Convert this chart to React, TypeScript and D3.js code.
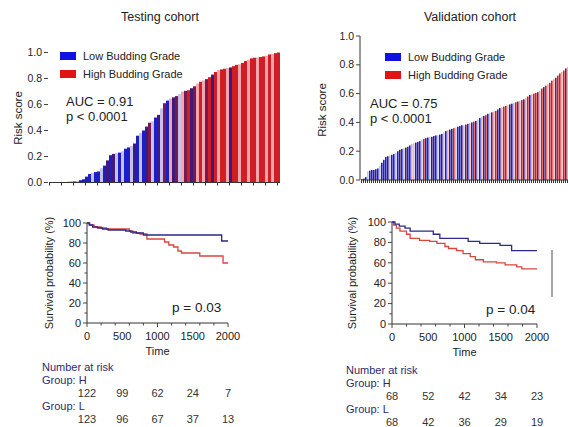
import React from 'react';
import * as d3 from 'd3';

// risk score bars (sorted), one letter per bar for the colour group
const testScores = [
  0, 0, 0, 0, 0.003, 0.003, 0.005, 0.006, 0.008, 0.012, 0.018, 0.025,
  0.045, 0.065, 0.075, 0.08, 0.085, 0.11, 0.13, 0.17, 0.21, 0.22, 0.225, 0.23,
  0.24, 0.26, 0.27, 0.28, 0.3, 0.36, 0.38, 0.4, 0.43, 0.46, 0.47, 0.5,
  0.52, 0.57, 0.61, 0.63, 0.645, 0.655, 0.665, 0.68, 0.7, 0.705, 0.71, 0.725,
  0.74, 0.76, 0.775, 0.785, 0.795, 0.81, 0.83, 0.85, 0.865, 0.87, 0.875, 0.88,
  0.885, 0.895, 0.905, 0.91, 0.92, 0.935, 0.945, 0.955, 0.96, 0.962, 0.965, 0.97,
  0.975, 0.985, 0.99, 0.995, 1.0,
];
const testGrades = 'BBLBBLBBBLBBBBLBBLBPBPLBLBBLPBLBPMLBPLMBKPMLKMRPMKRKMRPRKRRKPRRKRRKRRKRRKRKRR'.split('');

const valScores = [
  0.005, 0.01, 0.02, 0.06, 0.065, 0.07, 0.07, 0.075, 0.08, 0.1, 0.12, 0.14,
  0.16, 0.165, 0.17, 0.175, 0.18, 0.19, 0.2, 0.21, 0.215, 0.22, 0.225, 0.23,
  0.24, 0.25, 0.255, 0.26, 0.265, 0.27, 0.28, 0.285, 0.29, 0.295, 0.3, 0.3,
  0.305, 0.31, 0.31, 0.315, 0.32, 0.33, 0.34, 0.345, 0.35, 0.355, 0.36, 0.365,
  0.37, 0.375, 0.38, 0.38, 0.385, 0.39, 0.395, 0.4, 0.405, 0.41, 0.42, 0.43,
  0.44, 0.445, 0.45, 0.46, 0.465, 0.47, 0.475, 0.48, 0.49, 0.5, 0.505, 0.51,
  0.515, 0.52, 0.525, 0.53, 0.535, 0.54, 0.545, 0.55, 0.555, 0.56, 0.57, 0.58,
  0.59, 0.595, 0.6, 0.605, 0.61, 0.62, 0.635, 0.645, 0.655, 0.665, 0.675, 0.69,
  0.7, 0.71, 0.725, 0.74, 0.75, 0.76, 0.775, 0.785,
];
const valGrades = ('BBBLBBPBBLBBBPLBBLBP' + 'BLPBBKLBPBLRBBLPBBLB' + 'PLBKBPRLBBPLMBKBRPLB' +
  'KPRBLMKRBPKRRLPBKRMK' + 'RPKRBKRRMKRPRKRRKMRRKRMK').split('');

const riskTicks = [0, 0.2, 0.4, 0.6, 0.8, 1.0];
const timeTicks = [0, 500, 1000, 1500, 2000];
const survTicks = [0, 20, 40, 60, 80, 100];

// Kaplan-Meier steps
const testLowT = [0, 30, 80, 150, 220, 300, 550, 620, 700, 800, 1910];
const testLowS = [100, 98, 96, 95, 94, 93, 92, 91, 90, 88, 82];
const testHighT = [0, 40, 100, 200, 280, 600, 650, 750, 850, 1100, 1160, 1230, 1290, 1340, 1600, 1930];
const testHighS = [100, 98, 96, 95, 94, 92, 90, 89, 84, 81, 78, 76, 72, 70, 67, 60];
const valLowT = [0, 40, 100, 180, 250, 570, 660, 1050, 1210, 1490, 1650];
const valLowS = [100, 98, 96, 94, 91, 88, 84, 81, 79, 77, 72];
const valHighT = [0, 20, 60, 110, 200, 250, 380, 520, 620, 730, 780, 890, 980, 1080, 1150, 1260, 1440, 1560, 1720, 1790];
const valHighS = [100, 97, 94, 91, 88, 84, 82, 81, 79, 76, 74, 72, 69, 66, 63, 61, 60, 58, 56, 54];

const testRiskH = [122, 99, 62, 24, 7];
const testRiskL = [123, 96, 67, 37, 13];
const valRiskH = [68, 52, 42, 34, 23];
const valRiskL = [68, 42, 36, 29, 19];

const gradeColor: Record<string, string> = {
  B: '#1e1ec6', P: '#40197a', M: '#7a1a4c', L: '#c7c0ec', K: '#f1a7af', R: '#d11e24',
};
const FONT = 'Liberation Sans, Arial, sans-serif';
const TXT = '#222';
const NAVY = '#2b2b70';

function RiskPanel(props: any) {
  const { scores, grades, left, right, top, bottom, tickEvery, yAxisX, axisLine, title, titleX,
    legendX, legendY, aucX, aucY, auc, labelX, labelY, fill } = props;
  const x = d3.scaleBand<number>().domain(d3.range(scores.length)).range([left, right]);
  const y = d3.scaleLinear().domain([0, 1]).range([bottom, top]);
  return (
    <g fontFamily={FONT}>
      <text x={titleX} y={21} fontSize={12.5} textAnchor="middle" fill={TXT}>{title}</text>
      {scores.map((s: number, i: number) => (
        <rect key={i} x={x(i)} y={y(s)} width={x.bandwidth() * fill} height={bottom - y(s)}
          fill={gradeColor[grades[i]]} />
      ))}
      <line x1={left} x2={right} y1={bottom} y2={bottom} stroke="#333" strokeWidth={1} />
      {scores.map((s: number, i: number) => i % tickEvery === 0 ? (
        <line key={'t' + i} x1={x(i)! + 0.5} x2={x(i)! + 0.5} y1={bottom} y2={bottom + 3} stroke="#333" strokeWidth={1} />
      ) : null)}
      {axisLine && <line x1={yAxisX} x2={yAxisX} y1={top} y2={bottom} stroke="#333" />}
      {riskTicks.map((t) => (
        <g key={t}>
          <line x1={yAxisX - 4} x2={yAxisX} y1={y(t)} y2={y(t)} stroke="#444" />
          <text x={yAxisX - 6} y={y(t)} dy="0.35em" fontSize={10.5} textAnchor="end" fill={TXT}>{t.toFixed(1)}</text>
        </g>
      ))}
      <text transform={`translate(${labelX},${labelY}) rotate(-90)`} fontSize={11.5} textAnchor="middle" fill={TXT}>Risk score</text>
      <rect x={legendX} y={legendY - 7} width={16} height={8} fill="#1212e0" />
      <text x={legendX + 23} y={legendY + 1} fontSize={11} fill={TXT}>Low Budding Grade</text>
      <rect x={legendX} y={legendY + 11} width={16} height={8} fill="#e01414" />
      <text x={legendX + 23} y={legendY + 19} fontSize={11} fill={TXT}>High Budding Grade</text>
      <text x={aucX} y={aucY} fontSize={13} fill={TXT}>AUC = {auc}</text>
      <text x={aucX} y={aucY + 15} fontSize={13} fill={TXT}>p &lt; 0.0001</text>
    </g>
  );
}

function KMPanel(props: any) {
  const { left, right, top, bottom, lowT, lowS, highT, highS, pText, pX, pY, labelX,
    riskH, riskL, riskX, riskY } = props;
  const x = d3.scaleLinear().domain([0, 2000]).range([left, right]);
  const y = d3.scaleLinear().domain([0, 100]).range([bottom, top]);
  const line = d3.line<[number, number]>().x((d) => x(d[0])).y((d) => y(d[1])).curve(d3.curveStepAfter);
  const pts = (t: number[], s: number[]) => [...t.map((v, i) => [v, s[i]] as [number, number]), [2000, s[s.length - 1]] as [number, number]];
  return (
    <g fontFamily={FONT}>
      <line x1={left} x2={left} y1={top} y2={bottom} stroke="#333" />
      <line x1={left} x2={right} y1={bottom} y2={bottom} stroke="#333" />
      {y.ticks(10).map((t) => (
        <line key={'m' + t} x1={left - (t % 20 === 0 ? 4 : 2.5)} x2={left} y1={y(t)} y2={y(t)} stroke="#444" />
      ))}
      {survTicks.map((t) => (
        <text key={t} x={left - 6} y={y(t)} dy="0.35em" fontSize={11} textAnchor="end" fill={TXT}>{t}</text>
      ))}
      {x.ticks(8).map((t) => (
        <line key={'x' + t} x1={x(t)} x2={x(t)} y1={bottom} y2={bottom + (t % 500 === 0 ? 4 : 2.5)} stroke="#444" />
      ))}
      {timeTicks.map((t) => (
        <text key={t} x={x(t)} y={bottom + 17} fontSize={11} textAnchor="middle" fill={TXT}>{t}</text>
      ))}
      <text x={(left + right) / 2} y={bottom + 32} fontSize={11} textAnchor="middle" fill={TXT}>Time</text>
      <text transform={`translate(${labelX},${(top + bottom) / 2}) rotate(-90)`} fontSize={11} textAnchor="middle" fill={TXT}>Survival probability (%)</text>
      <path d={line(pts(highT, highS))!} fill="none" stroke="#d8473c" strokeWidth={1.3} />
      <path d={line(pts(lowT, lowS))!} fill="none" stroke="#2a2a88" strokeWidth={1.3} />
      <text x={pX} y={pY} fontSize={13.5} fill={TXT}>{pText}</text>
      <text x={riskX} y={riskY} fontSize={11} fill={NAVY}>Number at risk</text>
      <text x={riskX} y={riskY + 13} fontSize={11} fill={NAVY}>Group: H</text>
      {riskH.map((n: number, i: number) => (
        <text key={'h' + i} x={x(timeTicks[i])} y={riskY + 26} fontSize={11} textAnchor="middle" fill="#333">{n}</text>
      ))}
      <text x={riskX} y={riskY + 39} fontSize={11} fill={NAVY}>Group: L</text>
      {riskL.map((n: number, i: number) => (
        <text key={'l' + i} x={x(timeTicks[i])} y={riskY + 52} fontSize={11} textAnchor="middle" fill="#333">{n}</text>
      ))}
    </g>
  );
}

export default function App() {
  return (
    <svg width={568} height={427} style={{ position: 'absolute', left: 0, top: 0, background: '#fff' }}>
      <rect width={568} height={427} fill="#fff" />
      <RiskPanel scores={testScores} grades={testGrades} left={49} right={280} top={52.5} bottom={182.5}
        tickEvery={4} yAxisX={48} axisLine={false} title="Testing cohort" titleX={160} fill={1}
        legendX={60} legendY={59} aucX={66} aucY={106} auc="0.91" labelX={22} labelY={118} />
      <RiskPanel scores={valScores} grades={valGrades} left={361} right={569} top={36} bottom={180}
        tickEvery={1} yAxisX={360} axisLine={true} title="Validation cohort" titleX={470} fill={0.8}
        legendX={385} legendY={60} aucX={370} aucY={108} auc="0.75" labelX={326} labelY={110} />
      <KMPanel left={87} right={228} top={223} bottom={323} lowT={testLowT} lowS={testLowS}
        highT={testHighT} highS={testHighS} pText="p = 0.03" pX={172} pY={312} labelX={53}
        riskH={testRiskH} riskL={testRiskL} riskX={42} riskY={371} />
      <KMPanel left={392} right={537} top={222} bottom={324} lowT={valLowT} lowS={valLowS}
        highT={valHighT} highS={valHighS} pText="p = 0.04" pX={486} pY={314} labelX={356}
        riskH={valRiskH} riskL={valRiskL} riskX={346} riskY={374} />
      <line x1={552} x2={552} y1={250} y2={297} stroke="#888" strokeWidth={1.5} />
    </svg>
  );
}
